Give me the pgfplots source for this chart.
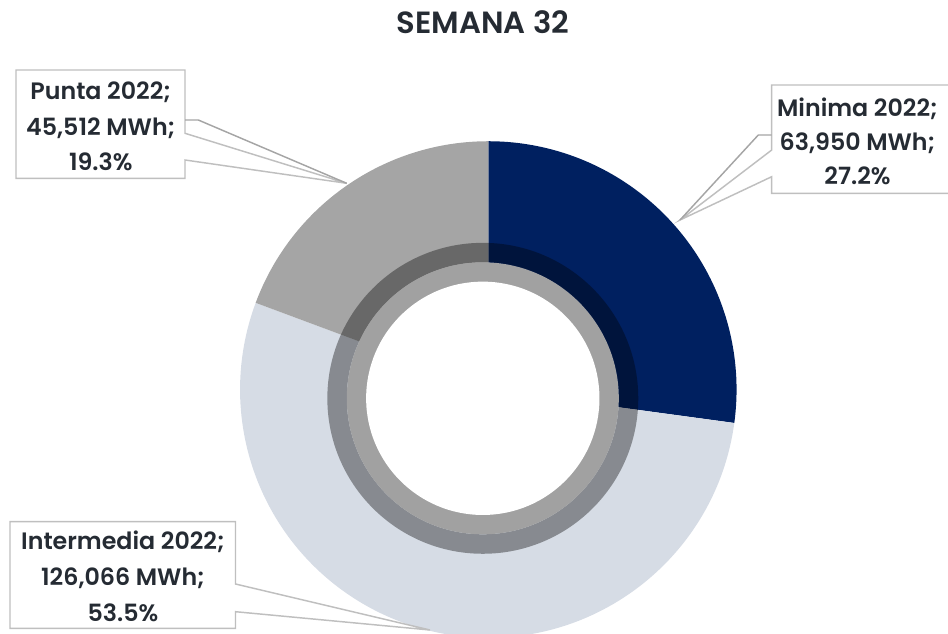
\documentclass[border=0pt]{standalone}
\usepackage{pgfplots}
\pgfplotsset{compat=1.18}
\usepackage{pgfplotstable}
\usepackage{fontspec}
\setmainfont{Poppins}
\newfontfamily\medfont{Poppins Medium}
\newfontfamily\semifont{Poppins SemiBold}

\definecolor{cMin}{RGB}{0,32,96}
\definecolor{cInt}{RGB}{214,220,229}
\definecolor{cPun}{RGB}{165,165,165}
\definecolor{cRing}{RGB}{161,161,161}
\definecolor{txt}{RGB}{37,43,51}
\definecolor{boxc}{RGB}{191,191,191}
\definecolor{leadc}{RGB}{165,165,165}

% energia semana 32 (MWh)
\pgfplotstableread{
label value
Minima 63950
Intermedia 126066
Punta 45512
}\mwh

\begin{document}
\begin{tikzpicture}
\pgfplotstablegetelem{0}{value}\of\mwh \edef\vA{\pgfplotsretval}
\pgfplotstablegetelem{1}{value}\of\mwh \edef\vB{\pgfplotsretval}
\pgfplotstablegetelem{2}{value}\of\mwh \edef\vC{\pgfplotsretval}
\edef\tot{\fpeval{\vA+\vB+\vC}}
\edef\angA{\fpeval{90-360*\vA/\tot}}
\edef\angB{\fpeval{\angA-360*\vB/\tot}}
\useasboundingbox (0,0) rectangle (711pt,475.5pt);
\begin{axis}[
    x=0.75pt, y=0.75pt,
    xmin=0, xmax=948, ymin=0, ymax=634,
    y dir=reverse,
    hide axis, scale only axis, clip=false,
]
% outer ring
\fill[cMin] (axis cs:488.3,389.5) -- ++(90:186.2pt) arc[start angle=90, end angle=\angA, radius=186.2pt] -- cycle;
\fill[cInt] (axis cs:488.3,389.5) -- ++(\angA:186.2pt) arc[start angle=\angA, end angle=\angB, radius=186.2pt] -- cycle;
\fill[cPun] (axis cs:488.3,389.5) -- ++(\angB:186.2pt) arc[start angle=\angB, end angle=-270, radius=186.2pt] -- cycle;
% inner rings
\fill[black, opacity=0.37, even odd rule] (axis cs:482.8,398.3) circle[radius=116.6pt] (axis cs:482.8,398.3) circle[radius=102pt];
\fill[cRing] (axis cs:482.8,398.3) circle[radius=102pt];
\fill[white] (axis cs:482.8,398.3) circle[radius=87.5pt];

% callouts
\draw[boxc, line width=1.1pt, fill=white, line join=miter]
  (axis cs:16,70) -- (axis cs:185,70) -- (axis cs:185,133.3) -- (axis cs:346.7,183.3)
  -- (axis cs:185,160) -- (axis cs:185,178.3) -- (axis cs:16,178.3) -- cycle;
\draw[leadc, line width=1.1pt] (axis cs:185,120) -- (axis cs:198.3,120) -- (axis cs:346.7,183.3);

\draw[boxc, line width=1.1pt, fill=white, line join=miter]
  (axis cs:771.7,85) -- (axis cs:960,85) -- (axis cs:960,193.3) -- (axis cs:771.7,193.3)
  -- (axis cs:771.7,176.7) -- (axis cs:680,220) -- (axis cs:771.7,150) -- cycle;
\draw[leadc, line width=1.1pt] (axis cs:771.7,135) -- (axis cs:758.3,135) -- (axis cs:680,220);

\draw[boxc, line width=1.1pt, fill=white, line join=miter]
  (axis cs:10,521.7) -- (axis cs:235.5,521.7) -- (axis cs:235.5,584) -- (axis cs:430,630)
  -- (axis cs:235.5,611.7) -- (axis cs:235.5,628.3) -- (axis cs:10,628.3) -- cycle;

% labels
\tikzset{lab/.style={anchor=base, text=txt, inner sep=0pt, font=\semifont\fontsize{17.8}{20}\selectfont}}
\node[lab] at (axis cs:100.8,99.5) {Punta 2022;};
\node[lab] at (axis cs:100.8,135.2) {45,512 MWh;};
\node[lab] at (axis cs:100.8,170.8) {19.3\%};
\node[lab] at (axis cs:857.5,116.5) {Minima 2022;};
\node[lab] at (axis cs:857.5,150.5) {63,950 MWh;};
\node[lab] at (axis cs:857.5,184.5) {27.2\%};
\node[lab] at (axis cs:123,549.3) {Intermedia 2022;};
\node[lab] at (axis cs:123,585) {126,066 MWh;};
\node[lab] at (axis cs:123,621) {53.5\%};

\node[anchor=base, text=txt, inner sep=0pt, font=\semifont\fontsize{23}{27}\selectfont] at (axis cs:483,34) {SEMANA 32};
\end{axis}
\end{tikzpicture}
\end{document}
